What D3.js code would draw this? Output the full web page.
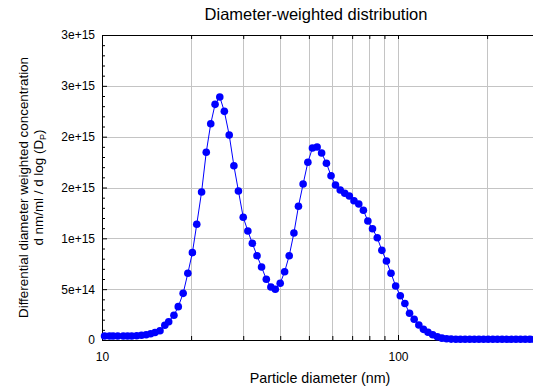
<!DOCTYPE html>
<html>
<head>
<meta charset="utf-8">
<script src="https://cdn.jsdelivr.net/npm/d3@7"></script>
<style>
  body { margin: 0; background: #fff; }
  svg { display: block; font-family: "Liberation Sans", Arial, sans-serif; }
</style>
</head>
<body>
<svg id="chart" width="533" height="389"></svg>
<script>
// particle diameters (nm), one per channel
var diameters = [10.2, 10.6, 10.9, 11.3, 11.8, 12.2, 12.6, 13.1, 13.6, 14.1, 14.6, 15.1,
  15.7, 16.3, 16.8, 17.5, 18.1, 18.8, 19.5, 20.2, 20.9, 21.7, 22.5, 23.3, 24.1, 25.0,
  25.9, 26.9, 27.9, 28.9, 30.0, 31.1, 32.2, 33.4, 34.6, 35.9, 37.2, 38.5, 40.0,
  41.4, 42.9, 44.5, 46.1, 47.8, 49.6, 51.4, 53.3, 55.2, 57.3, 59.4, 61.5,
  63.8, 66.1, 68.5, 71.0, 73.7, 76.4, 79.1, 82.0, 85.1, 88.2, 91.4, 94.7, 98.2,
  101.8, 105.5, 109.4, 113.4, 117.6, 121.9, 126.3, 131.0, 135.8, 140.7, 145.9, 151.2,
  156.8, 162.5, 168.5, 174.7, 181.1, 187.7, 194.6, 201.7, 209.1, 216.7,
  224.7, 232.9, 241.4, 250.3, 259.5, 269.0, 278.8, 289.0];
// concentration in units of 1e15
var concentration = [0.039, 0.039, 0.039, 0.039, 0.039, 0.040, 0.040, 0.042, 0.046, 0.052, 0.062, 0.074,
  0.091, 0.145, 0.180, 0.243, 0.328, 0.459, 0.656, 0.859, 1.138, 1.456, 1.846, 2.127, 2.318, 2.390,
  2.249, 2.016, 1.714, 1.466, 1.207, 1.072, 0.951, 0.829, 0.718, 0.597, 0.521, 0.499, 0.558,
  0.672, 0.829, 1.052, 1.315, 1.534, 1.748, 1.888, 1.898, 1.839, 1.739, 1.616, 1.525,
  1.475, 1.443, 1.416, 1.370, 1.338, 1.276, 1.170, 1.095, 1.006, 0.882, 0.777, 0.656, 0.531,
  0.435, 0.359, 0.263, 0.204, 0.148, 0.105, 0.076, 0.052, 0.032, 0.018, 0.012, 0.009,
  0.008, 0.008, 0.007, 0.007, 0.007, 0.007, 0.007, 0.007, 0.007, 0.007,
  0.007, 0.007, 0.007, 0.007, 0.007, 0.007, 0.007, 0.007];

var yTicks = [0, 0.5, 1, 1.5, 2, 2.5, 3];
var yTickLabels = ["0", "5e+14", "1e+15", "2e+15", "2e+15", "3e+15", "3e+15"];
var yMinorTicks = [0.1, 0.2, 0.3, 0.4, 0.6, 0.7, 0.8, 0.9, 1.1, 1.2, 1.3, 1.4, 1.6, 1.7, 1.8, 1.9,
  2.1, 2.2, 2.3, 2.4, 2.6, 2.7, 2.8, 2.9];
var xTicks = [10, 100];
var xTickLabels = ["10", "100"];
var xMinorTicks = [20, 30, 40, 50, 60, 70, 80, 90, 200];

(function () {
  var svg = d3.select('#chart');
  var plotLeft = 102, plotTop = 35, plotBottom = 340;

  var x = d3.scaleLog()
    .domain([10, 300])
    .range([plotLeft, plotLeft + 296 * Math.log10(30)]);
  var y = d3.scaleLinear()
    .domain([0, 3])
    .range([plotBottom, plotTop]);

  var gridColor = "#c4c4c4";

  // vertical grid
  svg.selectAll('.vgrid')
    .data(xMinorTicks.concat(xTicks))
    .enter()
    .append('line')
    .attr('class', 'vgrid')
    .attr('x1', function(d) { return Math.round(x(d)) + 0.5; })
    .attr('x2', function(d) { return Math.round(x(d)) + 0.5; })
    .attr('y1', plotTop)
    .attr('y2', plotBottom)
    .attr('stroke', gridColor)
    .attr('stroke-width', 1);

  // horizontal grid
  svg.selectAll('.hgrid')
    .data(yTicks)
    .enter()
    .append('line')
    .attr('class', 'hgrid')
    .attr('x1', plotLeft)
    .attr('x2', 533)
    .attr('y1', function(d) { return Math.round(y(d)) + 0.5; })
    .attr('y2', function(d) { return Math.round(y(d)) + 0.5; })
    .attr('stroke', gridColor)
    .attr('stroke-width', 1);

  function styleText(g) {
    g.selectAll('text').attr('font-size', 12).attr('fill', '#000').attr('font-family', null);
  }

  // bottom axis, ticks pointing inward
  svg.append('g')
    .attr('transform', 'translate(0,' + plotBottom + ')')
    .call(d3.axisBottom(x)
      .tickValues(xTicks)
      .tickSize(-5)
      .tickPadding(12)
      .tickFormat(function(d, i) { return xTickLabels[i]; }))
    .call(function(g) {
      g.select('.domain').attr('d', 'M' + plotLeft + ',0.5H540');
      styleText(g);
    });
  svg.append('g')
    .attr('transform', 'translate(0,' + plotBottom + ')')
    .call(d3.axisBottom(x).tickValues(xMinorTicks).tickSize(-4).tickFormat(''))
    .call(function(g) { g.select('.domain').remove(); });

  // top border with ticks
  svg.append('g')
    .attr('transform', 'translate(0,' + plotTop + ')')
    .call(d3.axisTop(x).tickValues(xMinorTicks.concat(xTicks)).tickSize(-4).tickFormat(''))
    .call(function(g) { g.select('.domain').attr('d', 'M' + plotLeft + ',0.5H540'); });

  // left axis
  svg.append('g')
    .attr('transform', 'translate(' + plotLeft + ',0)')
    .call(d3.axisLeft(y)
      .tickValues(yTicks)
      .tickSize(-5)
      .tickPadding(7)
      .tickFormat(function(d, i) { return yTickLabels[i]; }))
    .call(function(g) {
      g.select('.domain').attr('d', 'M0.5,' + plotTop + 'V' + (plotBottom + 0.5));
      styleText(g);
    });
  svg.append('g')
    .attr('transform', 'translate(' + plotLeft + ',0)')
    .call(d3.axisLeft(y).tickValues(yMinorTicks).tickSize(-3).tickFormat(''))
    .call(function(g) { g.select('.domain').remove(); });

  // series
  var line = d3.line()
    .x(function(d, i) { return x(diameters[i]); })
    .y(function(d) { return y(d); });
  svg.append('path')
    .datum(concentration)
    .attr('d', line)
    .attr('fill', 'none')
    .attr('stroke', '#0000ff')
    .attr('stroke-width', 1);
  svg.selectAll('.dot')
    .data(concentration)
    .enter()
    .append('circle')
    .attr('class', 'dot')
    .attr('cx', function(d, i) { return x(diameters[i]); })
    .attr('cy', function(d) { return y(d); })
    .attr('r', 3.8)
    .attr('fill', '#0000ff');

  // title and labels
  svg.append('text')
    .text('Diameter-weighted distribution')
    .attr('x', 316)
    .attr('y', 20)
    .attr('text-anchor', 'middle')
    .attr('font-size', 16.5);
  svg.append('text')
    .text('Particle diameter (nm)')
    .attr('x', 320)
    .attr('y', 383)
    .attr('text-anchor', 'middle')
    .attr('font-size', 14.3);
  var ylab = svg.append('text')
    .attr('transform', 'translate(28,' + ((plotTop + plotBottom) / 2) + ') rotate(-90)')
    .attr('text-anchor', 'middle')
    .attr('font-size', 13.4);
  ylab.append('tspan')
    .attr('x', 0)
    .attr('y', 0)
    .text('Differential diameter weighted concentration');
  var l2 = ylab.append('tspan')
    .attr('x', 0)
    .attr('y', 15)
    .text('d nm/ml / d log (D');
  l2.append('tspan')
    .attr('font-size', 9)
    .attr('dy', 3)
    .text('P');
  l2.append('tspan')
    .attr('dy', -3)
    .text(')');
})();
</script>
</body>
</html>
